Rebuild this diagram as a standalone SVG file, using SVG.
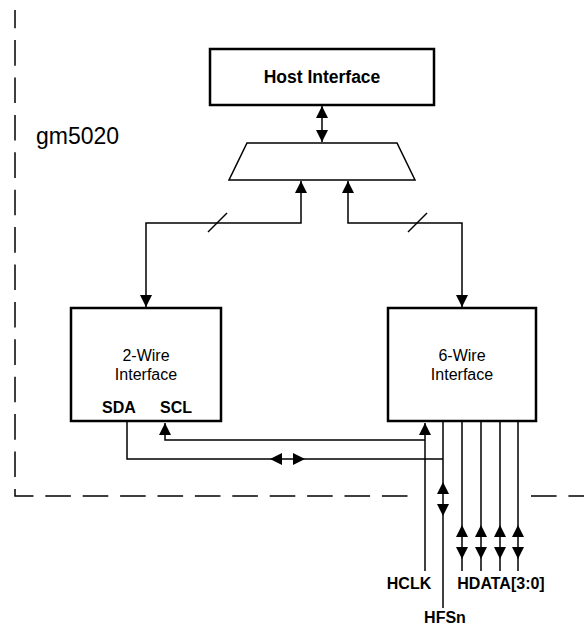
<svg xmlns="http://www.w3.org/2000/svg" xmlns:xlink="http://www.w3.org/1999/xlink" width="584" height="628" viewBox="0 0 584 628">
<style>
.box{fill:#fff;stroke:#000;stroke-width:2.5}
.ln{fill:none;stroke:#000;stroke-width:1.5}
.dash{fill:none;stroke:#000;stroke-width:1.5;stroke-dasharray:25.6 11.8}
.t{font-family:"Liberation Sans",Arial,sans-serif;fill:#000;text-anchor:middle}
.n{font-size:16px}
.b{font-size:16px;font-weight:bold}
</style>
<defs>
<path id="ah" d="M0,0 L-12,-6 L-12,6 Z" fill="#000"/>
</defs>
<rect width="584" height="628" fill="#fff"/>
<g id="boundary">
<path class="dash" d="M15,10 V496 H408" stroke-dashoffset="7.3"/>
<path class="dash" d="M531,496 H584"/>
<text x="36" y="144" style="font-family:'Liberation Sans',Arial,sans-serif;font-size:23px">gm5020</text>
</g>
<g id="host">
<rect class="box" x="210" y="49" width="224" height="56"/>
<text class="t" x="322" y="83" style="font-size:17.5px;font-weight:bold">Host Interface</text>
</g>
<g id="mux">
<polygon class="ln" points="247,143 397,143 415,180 229,180"/>
</g>
<g id="twowire">
<rect class="box" x="71" y="308" width="150" height="113"/>
<text class="t n" x="146" y="361">2-Wire</text>
<text class="t n" x="146" y="380">Interface</text>
<text class="t b" x="119" y="413">SDA</text>
<text class="t b" x="176" y="413">SCL</text>
</g>
<g id="sixwire">
<rect class="box" x="388" y="308" width="148" height="113"/>
<text class="t n" x="462" y="361">6-Wire</text>
<text class="t n" x="462" y="380">Interface</text>
</g>
<g id="connectors">
<path class="ln" d="M322,106 V142"/>
<use xlink:href="#ah" transform="translate(322,106) rotate(-90)"/>
<use xlink:href="#ah" transform="translate(322,142) rotate(90)"/>
<path class="ln" d="M301,181 V223 H146 V307"/>
<use xlink:href="#ah" transform="translate(301,181) rotate(-90)"/>
<use xlink:href="#ah" transform="translate(146,307) rotate(90)"/>
<path class="ln" d="M208,232 L227,213"/>
<path class="ln" d="M348,181 V223 H462 V307"/>
<use xlink:href="#ah" transform="translate(348,181) rotate(-90)"/>
<use xlink:href="#ah" transform="translate(462,307) rotate(90)"/>
<path class="ln" d="M408,232 L427,213"/>
<path class="ln" d="M127,422 V459 H443"/>
<use xlink:href="#ah" transform="translate(270,459) rotate(180)"/>
<use xlink:href="#ah" transform="translate(305,459)"/>
<path class="ln" d="M165,423 V440 H425"/>
<use xlink:href="#ah" transform="translate(165,423) rotate(-90)"/>
<path class="ln" d="M425,423 V571"/>
<use xlink:href="#ah" transform="translate(425,423) rotate(-90)"/>
<path class="ln" d="M443,422 V608"/>
<use xlink:href="#ah" transform="translate(443,482) rotate(-90)"/>
<use xlink:href="#ah" transform="translate(443,516) rotate(90)"/>
<path class="ln" d="M462,422 V571 M481,422 V571 M500,422 V571 M518,422 V571"/>
<use xlink:href="#ah" transform="translate(462,525) rotate(-90)"/>
<use xlink:href="#ah" transform="translate(462,559) rotate(90)"/>
<use xlink:href="#ah" transform="translate(481,525) rotate(-90)"/>
<use xlink:href="#ah" transform="translate(481,559) rotate(90)"/>
<use xlink:href="#ah" transform="translate(500,525) rotate(-90)"/>
<use xlink:href="#ah" transform="translate(500,559) rotate(90)"/>
<use xlink:href="#ah" transform="translate(518,525) rotate(-90)"/>
<use xlink:href="#ah" transform="translate(518,559) rotate(90)"/>
</g>
<g id="labels">
<text class="t b" x="409" y="589">HCLK</text>
<text class="t b" x="445" y="623">HFSn</text>
<text class="t b" x="501" y="589">HDATA[3:0]</text>
</g>
</svg>
